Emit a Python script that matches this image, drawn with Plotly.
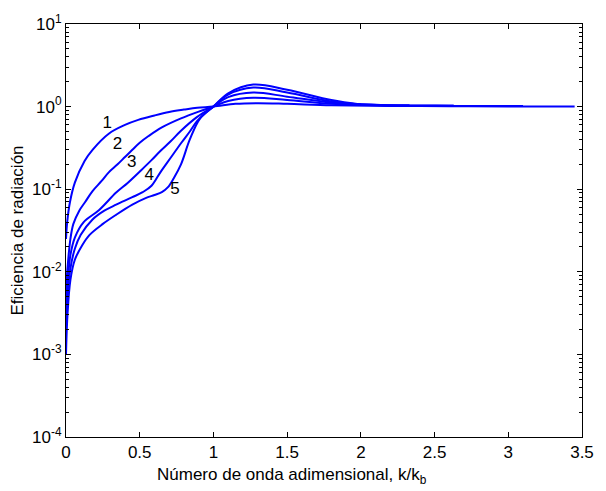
import plotly.graph_objects as go

# Curve data (k/kb, radiation efficiency)
x1 = [0, 0.008, 0.027, 0.06, 0.126, 0.18, 0.29, 0.4, 0.49, 0.6, 0.7, 0.8, 0.89, 1.0, 1.15, 1.3, 1.5, 1.8, 2.2, 2.6, 3.0, 3.45]
y1 = [0.025, 0.04, 0.07, 0.12, 0.22, 0.30, 0.47, 0.6, 0.69, 0.78, 0.86, 0.92, 0.97, 1.0, 1.08, 1.1, 1.08, 1.04, 1.02, 1.01, 1.0, 1.0]

x2 = [0, 0.01, 0.03, 0.05, 0.09, 0.13, 0.18, 0.24, 0.29, 0.35, 0.40, 0.45, 0.5, 0.56, 0.65, 0.78, 0.9, 1.0, 1.1, 1.27, 1.5, 1.8, 2.2, 2.6, 3.1]
y2 = [0.006, 0.011, 0.025, 0.038, 0.055, 0.07, 0.095, 0.125, 0.16, 0.2, 0.245, 0.3, 0.365, 0.44, 0.56, 0.72, 0.87, 1.0, 1.17, 1.28, 1.2, 1.08, 1.03, 1.02, 1.02]

x3 = [0, 0.01, 0.03, 0.06, 0.12, 0.225, 0.34, 0.42, 0.51, 0.58, 0.64, 0.71, 0.78, 0.89, 1.0, 1.1, 1.27, 1.5, 1.8, 2.2, 2.63]
y3 = [0.004, 0.007, 0.016, 0.026, 0.04, 0.056, 0.091, 0.12, 0.17, 0.225, 0.29, 0.38, 0.51, 0.75, 1.0, 1.3, 1.48, 1.32, 1.12, 1.04, 1.03]

x4 = [0, 0.01, 0.03, 0.06, 0.1, 0.18, 0.26, 0.34, 0.45, 0.52, 0.58, 0.64, 0.71, 0.78, 0.84, 0.89, 0.95, 1.0, 1.1, 1.27, 1.5, 1.8, 2.0, 2.33]
y4 = [0.002, 0.005, 0.011, 0.019, 0.028, 0.043, 0.055, 0.065, 0.08, 0.092, 0.11, 0.16, 0.24, 0.36, 0.5, 0.67, 0.85, 1.0, 1.4, 1.7, 1.48, 1.15, 1.06, 1.04]

x5 = [0, 0.01, 0.03, 0.06, 0.11, 0.16, 0.25, 0.34, 0.45, 0.54, 0.6, 0.65, 0.69, 0.73, 0.78, 0.84, 0.91, 1.0, 1.1, 1.27, 1.5, 1.8, 2.0]
y5 = [0.001, 0.003, 0.008, 0.014, 0.021, 0.028, 0.038, 0.049, 0.065, 0.078, 0.085, 0.092, 0.105, 0.135, 0.2, 0.4, 0.72, 1.0, 1.45, 1.85, 1.6, 1.2, 1.06]

series = [(x1, y1), (x2, y2), (x3, y3), (x4, y4), (x5, y5)]

label_text = ["1", "2", "3", "4", "5"]
label_x = [0.28, 0.35, 0.445, 0.565, 0.74]
label_y = [0.62, 0.35, 0.21, 0.145, 0.098]

ytick_vals = [1e-4, 1e-3, 1e-2, 1e-1, 1e0, 1e1]
ytick_text = ["10<sup>-4</sup>", "10<sup>-3</sup>", "10<sup>-2</sup>",
              "10<sup>-1</sup>", "10<sup>0</sup>", "10<sup>1</sup>"]
xtick_vals = [0, 0.5, 1, 1.5, 2, 2.5, 3, 3.5]
xtick_text = ["0", "0.5", "1", "1.5", "2", "2.5", "3", "3.5"]

minor_vals = [m * 10.0 ** e for e in range(-4, 1) for m in range(2, 10)]

fig = go.Figure()
for xs, ys in series:
    fig.add_trace(go.Scatter(x=xs, y=ys, mode="lines",
                             line=dict(color="#0000FF", width=2, shape="spline", smoothing=1.0),
                             showlegend=False, hoverinfo="skip"))

fig.add_trace(go.Scatter(x=label_x, y=label_y, mode="text", text=label_text,
                         textfont=dict(family="Liberation Sans", size=17, color="black"),
                         showlegend=False, hoverinfo="skip"))

font = dict(family="Liberation Sans", size=17, color="black")

fig.add_annotation(text="Número de onda adimensional, k/k<sub>b</sub>", xref="paper", yref="paper",
                   x=0.4375, y=0, xanchor="center", yanchor="top", yshift=-26,
                   showarrow=False, font=font)

fig.update_layout(
    width=606, height=491,
    margin=dict(l=66, r=12, t=19, b=54),
    paper_bgcolor="white", plot_bgcolor="white",
    font=font,
    xaxis=dict(range=[0, 3.5], tickmode="array", tickvals=xtick_vals, ticktext=xtick_text,
               ticks="inside", ticklen=5, tickcolor="black", showline=True, linecolor="black",
               linewidth=1, mirror="ticks", showgrid=False, zeroline=False,
               tickfont=font),
    yaxis=dict(type="log", range=[-4, 1], tickmode="array", tickvals=ytick_vals, ticktext=ytick_text,
               ticks="inside", ticklen=5, tickcolor="black", showline=True, linecolor="black",
               linewidth=1, mirror="ticks", showgrid=False, zeroline=False,
               minor=dict(tickmode="array", tickvals=minor_vals, ticks="inside", ticklen=3,
                          tickcolor="black", showgrid=False),
               title=dict(text="Eficiencia de radiación", font=font, standoff=4),
               tickfont=font),
)

fig.write_html("out.html")
